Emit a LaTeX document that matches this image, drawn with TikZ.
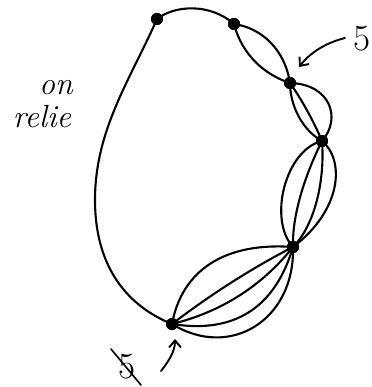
\documentclass[tikz,border=0pt]{standalone}
\usetikzlibrary{arrows.meta}
\begin{document}
\begin{tikzpicture}[x=1pt,y=-1pt,
  edge/.style={line width=2.1pt,line cap=round},
  dot/.style={circle,fill=black,inner sep=0pt,minimum size=12pt},
  lab/.style={font=\fontsize{37}{37}\selectfont,inner sep=0pt},
  hand/.style={font=\fontsize{32}{32}\selectfont\itshape,inner sep=0pt,text depth=0pt},
  pointer/.style={line width=1.9pt,line cap=round,-{Straight Barb[length=7pt,width=12pt,line width=1.9pt]}}]
\useasboundingbox (0,0) rectangle (371,387);

% vertices
\node[dot] (a) at (157,19) {};
\node[dot] (b) at (234,24) {};
\node[dot] (c) at (290,83) {};
\node[dot] (d) at (322,141) {};
\node[dot] (e) at (293,247) {};
\node[dot] (f) at (172,324) {};

% a - b
\draw[edge] (a.center) .. controls (175,5) and (210,3) .. (b.center);
% a - f (big loop)
\coordinate (lft) at (95,200);
\draw[edge] (a.center) .. controls (130,80) and (95,130) .. (lft)
                       .. controls (95,270) and (130,307) .. (f.center);
% b - c (2)
\draw[edge] (b.center) .. controls (242,55) and (265,75) .. (c.center);
\draw[edge] (b.center) .. controls (262,28) and (285,50) .. (c.center);
% c - d (3)
\draw[edge] (c.center) .. controls (330,84) and (342,118) .. (d.center);
\draw[edge] (c.center) .. controls (302,100) and (314,122) .. (d.center);
\draw[edge] (c.center) .. controls (290,105) and (302,130) .. (d.center);
% d - e (4)
\draw[edge] (d.center) .. controls (285,150) and (268,220) .. (e.center);
\draw[edge] (d.center) .. controls (305,175) and (292,215) .. (e.center);
\draw[edge] (d.center) .. controls (325,180) and (315,225) .. (e.center);
\draw[edge] (d.center) .. controls (345,160) and (342,210) .. (e.center);
% e - f (5)
\draw[edge] (f.center) .. controls (182,270) and (225,242) .. (e.center);
\draw[edge] (f.center) .. controls (210,295) and (252,268) .. (e.center);
\draw[edge] (f.center) .. controls (221,312) and (262,286) .. (e.center);
\draw[edge] (f.center) .. controls (234,334) and (275,308) .. (e.center);
\draw[edge] (f.center) .. controls (230,360) and (295,320) .. (e.center);

% redraw dots on top
\foreach \n in {a,b,c,d,e,f} \fill (\n.center) circle (6pt);

% labels
\node[lab] (t5) at (362,39) {5};
\coordinate (t5tail) at (345,38);
\coordinate (t5tip) at (299,67);
\draw[pointer] (t5tail) .. controls (325,43) and (310,53) .. (t5tip);

\node[lab] (b5) at (127,367) {5};
\coordinate (s1) at (111,349);
\coordinate (s2) at (141,385);
\draw[line width=1.6pt,line cap=round] (s1) -- (s2);
\coordinate (b5tail) at (161,371);
\coordinate (b5tip) at (175,339);
\draw[pointer] (b5tail) .. controls (168,362) and (175,352) .. (b5tip);

\node[hand,text height=0.43em,anchor=base] (on) at (56,95) {on};
\node[hand,text height=0.69em,anchor=base] (relie) at (42,128) {relie};
\end{tikzpicture}
\end{document}
